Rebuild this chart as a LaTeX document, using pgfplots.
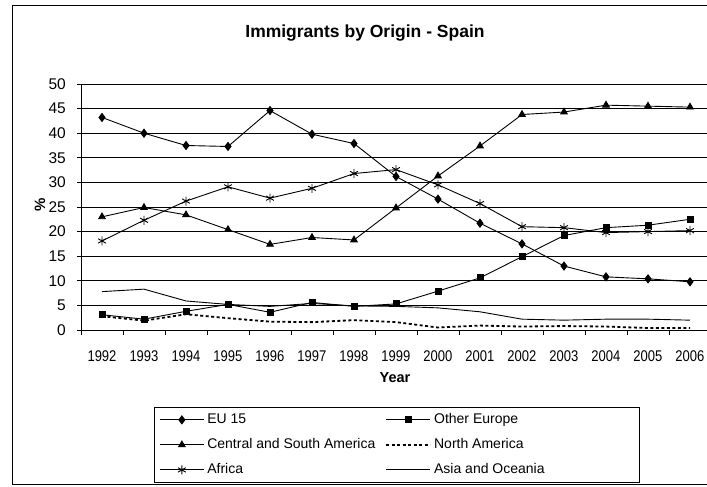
\documentclass[border=0pt]{standalone}
\usepackage{pgfplots}
\pgfplotsset{compat=1.18}
\usepackage{pgfplotstable}
\usepackage{graphicx}
\usepackage{fontspec}
\setmainfont{Liberation Sans}
\newcommand\sx[1]{\scalebox{0.84}[1]{#1}}
\newcommand\la[1]{\makebox[172pt][l]{#1}}
\newcommand\lb[1]{\makebox[200pt][l]{#1}}

\pgfplotstableread{
year eu other csa na africa asia
1992 43.2 3.1 23.0 2.8 18.1 7.8
1993 40.0 2.2 24.9 1.9 22.3 8.3
1994 37.5 3.8 23.4 3.2 26.2 5.9
1995 37.3 5.2 20.4 2.4 29.1 5.2
1996 44.6 3.6 17.4 1.7 26.8 4.8
1997 39.8 5.6 18.8 1.6 28.8 5.4
1998 37.9 4.8 18.3 2.0 31.8 4.9
1999 31.2 5.3 24.8 1.6 32.6 4.8
2000 26.6 7.9 31.3 0.5 29.5 4.5
2001 21.7 10.6 37.4 0.9 25.7 3.7
2002 17.5 14.9 43.8 0.7 21.0 2.2
2003 13.0 19.2 44.3 0.8 20.8 2.0
2004 10.8 20.8 45.7 0.7 19.8 2.2
2005 10.4 21.3 45.5 0.4 20.0 2.2
2006 9.8 22.5 45.3 0.4 20.2 2.0
}\datatable

\begin{document}
\begin{tikzpicture}[x=1pt,y=1pt]
\useasboundingbox (0,0) rectangle (707,487);
% outer frame (right edge cropped)
\draw[line width=1pt] (707,481) -- (12,481) -- (12,2) -- (707,2);
\node[font=\bfseries\fontsize{17.5}{20}\selectfont] at (365,454) {Immigrants by Origin - Spain};
\node[font=\bfseries\fontsize{15}{18}\selectfont, rotate=90] at (40,282) {\%};
\node[font=\bfseries\fontsize{14.5}{17}\selectfont] at (395,109) {Year};
\begin{axis}[
  at={(81pt,157pt)}, anchor=south west,
  scale only axis, width=630pt, height=246pt,
  xmin=1991.5, xmax=2006.5, ymin=0, ymax=50,
  axis x line*=bottom, axis y line*=left,
  axis line style={line width=0.8pt, black, -},
  xtick={1992,...,2006},
  xticklabels={\sx{1992},\sx{1993},\sx{1994},\sx{1995},\sx{1996},\sx{1997},\sx{1998},\sx{1999},\sx{2000},\sx{2001},\sx{2002},\sx{2003},\sx{2004},\sx{2005},\sx{2006}},
  minor xtick={1991.5,1992.5,...,2006.5},
  major x tick style={draw=none},
  minor x tick style={line width=0.8pt, black},
  minor tick length=5pt,
  ytick={0,5,...,50},
  y tick style={line width=0.8pt, black},
  major tick length=4pt,
  tick align=outside,
  ymajorgrids, grid style={line width=0.8pt, black},
  /pgf/number format/assume math mode=true,
  xticklabel style={font=\fontsize{15.5}{18}\selectfont, anchor=center, yshift=-22pt},
  yticklabel style={font=\fontsize{15.5}{18}\selectfont, anchor=east, inner sep=0pt, xshift=-11pt},
  clip=false,
  legend columns=2,
  legend style={at={(0.1159,-0.313)}, anchor=north west, draw=black, line width=0.8pt,
    font=\fontsize{14}{16}\selectfont, inner xsep=5pt, inner ysep=6pt,
    nodes={inner sep=0pt, text height=10pt, text depth=3pt, anchor=west},
    column sep=3pt, row sep=12pt,
    /tikz/every even column/.append style={column sep=6pt}},
  legend image code/.code={\draw[mark repeat=2,mark phase=2,#1] plot coordinates {(0pt,0pt) (22pt,0pt) (44pt,0pt)};},
  every axis plot/.append style={black, line width=0.9pt},
]
\addplot[mark=diamond*, mark size=4pt, mark options={solid}] table[x=year,y=eu] {\datatable};
\addlegendentry{\la{EU 15}}
\addplot[mark=square*, mark size=3pt, mark options={solid}] table[x=year,y=other] {\datatable};
\addlegendentry{\lb{Other Europe}}
\addplot[mark=triangle*, mark size=3.8pt, mark options={solid}] table[x=year,y=csa] {\datatable};
\addlegendentry{\la{Central and South America}}
\addplot[line width=1.8pt, dash pattern=on 3pt off 2.5pt] table[x=year,y=na] {\datatable};
\addlegendentry{\lb{North America}}
\addplot[mark=asterisk, mark size=4.5pt, mark options={solid, line width=0.9pt}] table[x=year,y=africa] {\datatable};
\addlegendentry{\la{Africa}}
\addplot[no marks] table[x=year,y=asia] {\datatable};
\addlegendentry{\lb{Asia and Oceania}}
\end{axis}
\end{tikzpicture}
\end{document}
